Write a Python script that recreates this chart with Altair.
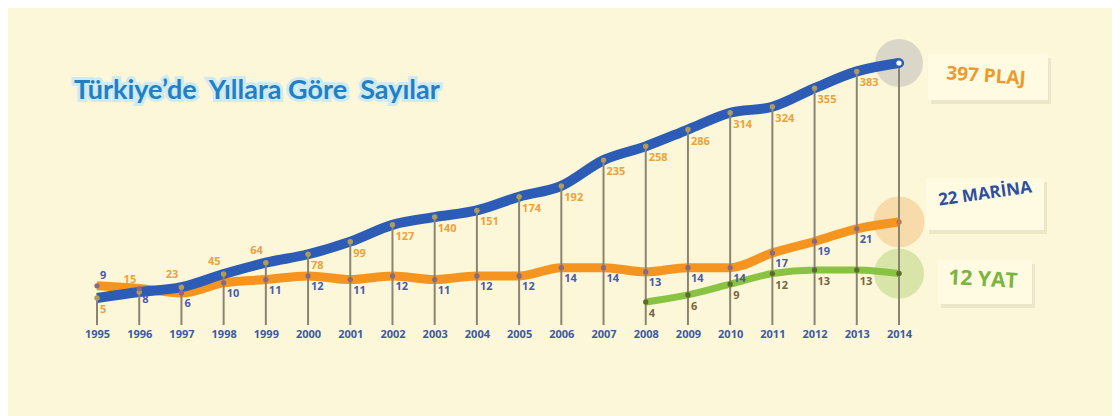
import altair as alt
import pandas as pd

# ---- data ----
years = list(range(1995, 2015))
plaj = [5, 15, 23, 45, 64, 78, 99, 127, 140, 151, 174, 192, 235, 258, 286, 314, 324, 355, 383, 397]
marina = [9, 8, 6, 10, 11, 12, 11, 12, 11, 12, 12, 14, 14, 13, 14, 14, 17, 19, 21, 22]
yat_years = list(range(2008, 2015))
yat = [4, 6, 9, 12, 13, 13, 12]

title_text = "Türkiye\u2019de\u00a0 Yıllara Göre\u00a0 Sayılar"
note_plaj = "397 PLAJ"
note_marina = "22 MARİNA"
note_yat = "12 YAT"

dp = pd.DataFrame({"year": years, "value": plaj})
dm = pd.DataFrame({"year": years, "value": marina})
dyat = pd.DataFrame({"year": yat_years, "value": yat})
dp_end = dp[dp.year == 2014]
dm_end = dm[dm.year == 2014]
dy_end = dyat[dyat.year == 2014]

# ---- colours ----
BG = "#fcf7d9"
BLUE = "#2c5cb5"
ORANGE = "#f5951f"
GREEN = "#88c441"
RULE = "#8c8472"

X = alt.X(
    "year:Q",
    scale=alt.Scale(domain=[1995, 2014], range=[89, 891], nice=False, zero=False),
    axis=alt.Axis(
        values=years, format="d", domain=False, ticks=False, grid=False,
        labelFont="Open Sans", labelFontWeight="bold", labelFontSize=11,
        labelColor="#3d5aa0", labelPadding=2, title=None,
        labelFlush=False, labelOverlap=False,
    ),
)
YP = alt.Y("value:Q", scale=alt.Scale(domain=[5, 397], range=[290, 55], zero=False, nice=False), axis=None)
YM = alt.Y("value:Q", scale=alt.Scale(type="pow", exponent=2, domain=[6, 22], range=[285, 214], zero=False, nice=False), axis=None)
YY = alt.Y("value:Q", scale=alt.Scale(domain=[4, 13], range=[294, 262], zero=False, nice=False), axis=None)

layers = []

# title with glow
title_glow = alt.Chart(dp_end).mark_text(
    text=title_text, font="Lato", fontWeight="bold", fontSize=27, align="left",
    baseline="middle", color="#d6eef2", stroke="#cfeaf0", strokeWidth=6,
).encode(x=alt.value(66), y=alt.value(83))
title = alt.Chart(dp_end).mark_text(
    text=title_text, font="Lato", fontWeight="bold", fontSize=27, align="left",
    baseline="middle", color="#1f80c6",
).encode(x=alt.value(66), y=alt.value(83))
layers += [title_glow, title]

# sticky notes (decoration)
def note(x1, x2, y1, y2):
    shadow = alt.Chart(dp_end).mark_rect(color="#d9d3b0", opacity=0.45).encode(
        x=alt.value(x1 + 3), x2=alt.value(x2 + 3), y=alt.value(y1 + 4), y2=alt.value(y2 + 4))
    paper = alt.Chart(dp_end).mark_rect(color="#fffbe3").encode(
        x=alt.value(x1), x2=alt.value(x2), y=alt.value(y1), y2=alt.value(y2))
    return [shadow, paper]

layers += note(920, 1040, 46, 92)
layers += note(918, 1036, 170, 222)
layers += note(930, 1024, 252, 296)

# halos at the end points
layers.append(alt.Chart(dp_end).mark_circle(color="#d6d3c6", opacity=0.9, size=2300).encode(x=X, y=YP))
layers.append(alt.Chart(dm_end).mark_circle(color="#f6d7a4", opacity=0.9, size=2600).encode(x=X, y=YM))
layers.append(alt.Chart(dy_end).mark_circle(color="#d5e2a2", opacity=0.9, size=2500).encode(x=X, y=YY))

# lines
layers.append(alt.Chart(dm).mark_line(color=ORANGE, strokeWidth=9, interpolate="monotone").encode(x=X, y=YM))
layers.append(alt.Chart(dyat).mark_line(color=GREEN, strokeWidth=7, interpolate="monotone").encode(x=X, y=YY))
layers.append(alt.Chart(dp).mark_line(color=BLUE, strokeWidth=10, interpolate="monotone").encode(x=X, y=YP))

# vertical rules from the beach line down to the axis
layers.append(alt.Chart(dp).mark_rule(color=RULE, strokeWidth=2).encode(x=X, y=YP, y2=alt.value(317)))

# dots
layers.append(alt.Chart(dp[dp.year < 2014]).mark_circle(color="#b19a5a", size=30, opacity=1).encode(x=X, y=YP))
layers.append(alt.Chart(dm[dm.year < 2014]).mark_circle(color="#8a6a80", size=28, opacity=1).encode(x=X, y=YM))
layers.append(alt.Chart(dyat[dyat.year < 2014]).mark_circle(color="#5d6b2a", size=28, opacity=1).encode(x=X, y=YY))
layers.append(alt.Chart(dp_end).mark_point(color=BLUE, fill="#ffffff", filled=False, size=60, strokeWidth=2.5, opacity=1).encode(x=X, y=YP))
layers.append(alt.Chart(dm_end).mark_circle(color="#c07a50", size=30, opacity=1).encode(x=X, y=YM))
layers.append(alt.Chart(dy_end).mark_circle(color="#5d6b2a", size=30, opacity=1).encode(x=X, y=YY))

# value labels
lab = dict(font="Open Sans", fontWeight="bold", fontSize=11, baseline="middle")
early = dp.year.between(1996, 1999)
layers.append(alt.Chart(dp[(dp.year < 2014) & ~early]).mark_text(color="#eba23a", dy=12, dx=3, align="left", **lab)
              .encode(x=X, y=YP, text="value:Q"))
layers.append(alt.Chart(dp[early]).mark_text(color="#eba23a", dy=-12, dx=-3, align="right", **lab)
              .encode(x=X, y=YP, text="value:Q"))
layers.append(alt.Chart(dm[(dm.year < 2014) & (dm.year > 1995)]).mark_text(color="#4a5aa8", dy=11, dx=3, align="left", **lab)
              .encode(x=X, y=YM, text="value:Q"))
layers.append(alt.Chart(dm[dm.year == 1995]).mark_text(color="#4a5aa8", dy=-10, dx=3, align="left", **lab)
              .encode(x=X, y=YM, text="value:Q"))
layers.append(alt.Chart(dyat[dyat.year < 2014]).mark_text(color="#7a6440", dy=12, dx=3, align="left", **lab)
              .encode(x=X, y=YY, text="value:Q"))

# note texts
layers.append(alt.Chart(dp_end).mark_text(text=note_plaj, font="Open Sans", fontWeight="bold", fontSize=19,
                                          color="#ec9a2c", angle=4, align="center", baseline="middle")
              .encode(x=alt.value(978), y=alt.value(68)))
layers.append(alt.Chart(dp_end).mark_text(text=note_marina, font="Open Sans", fontWeight="bold", fontSize=17,
                                          color="#2d4f9e", angle=352, align="center", baseline="middle")
              .encode(x=alt.value(977), y=alt.value(186)))
layers.append(alt.Chart(dp_end).mark_text(text=note_yat, font="Open Sans", fontWeight="bold", fontSize=21,
                                          color="#7cb440", angle=3, align="center", baseline="middle")
              .encode(x=alt.value(975), y=alt.value(272)))

chart = (
    alt.layer(*layers)
    .resolve_scale(y="independent")
    .properties(
        width=1104, height=318, background=BG,
        padding={"left": 0, "top": 0, "right": 0, "bottom": 90},
        autosize=alt.AutoSizeParams(type="none"),
    )
    .configure_view(stroke=None)
)

chart.save("out.html", embed_options={"renderer": "svg", "actions": False})
